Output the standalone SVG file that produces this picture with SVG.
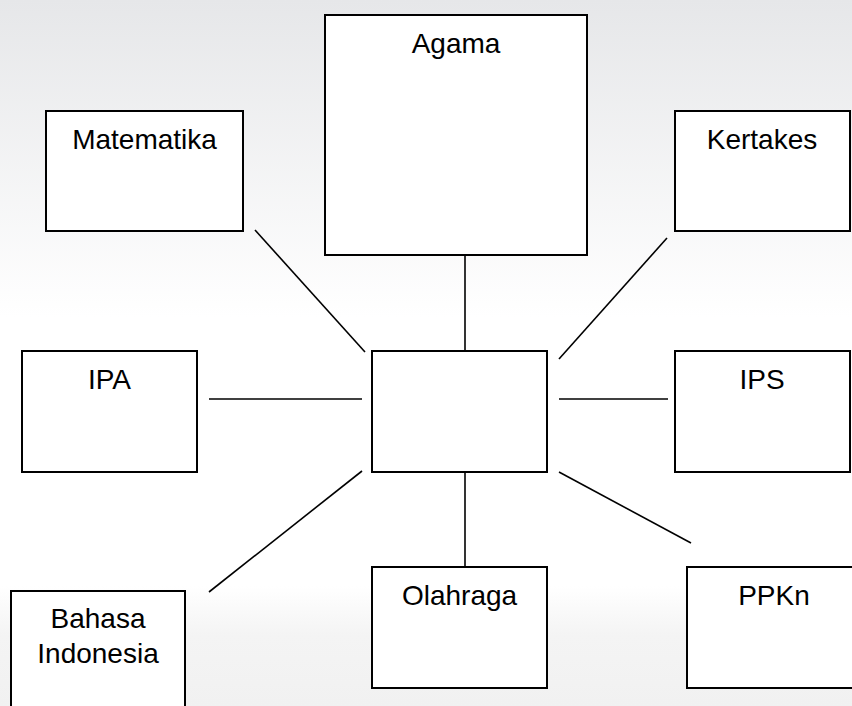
<svg xmlns="http://www.w3.org/2000/svg" width="852" height="706" viewBox="0 0 852 706">
<defs>
<linearGradient id="bg" x1="0" y1="0" x2="0" y2="1">
<stop offset="0" stop-color="#e6e7e9"/>
<stop offset="0.45" stop-color="#ffffff"/>
<stop offset="0.83" stop-color="#ffffff"/>
<stop offset="0.9" stop-color="#f4f4f4"/>
<stop offset="1" stop-color="#f1f1f1"/>
</linearGradient>
</defs>
<style>
.box{fill:#ffffff;stroke:#000;stroke-width:2}
.lbl{font-family:"Liberation Sans",Arial,sans-serif;font-size:28px;fill:#000;text-anchor:middle}
.con line{stroke:#000;stroke-width:1.6}
</style>
<rect x="0" y="0" width="852" height="706" fill="url(#bg)"/>
<g id="connectors" class="con">
<line x1="255" y1="230" x2="365" y2="352"/>
<line x1="465" y1="255" x2="465" y2="351"/>
<line x1="667" y1="238" x2="559" y2="359"/>
<line x1="209" y1="399" x2="362" y2="399"/>
<line x1="559" y1="399" x2="668" y2="399"/>
<line x1="362" y1="471" x2="209" y2="592"/>
<line x1="465" y1="472" x2="465" y2="567"/>
<line x1="559" y1="472" x2="691" y2="543"/>
</g>
<g id="agama"><rect class="box" x="325" y="15" width="262" height="240"/><text class="lbl" x="456" y="53">Agama</text></g>
<g id="matematika"><rect class="box" x="46" y="111" width="197" height="120"/><text class="lbl" x="144.5" y="149">Matematika</text></g>
<g id="kertakes"><rect class="box" x="675" y="111" width="175" height="120"/><text class="lbl" x="762" y="149">Kertakes</text></g>
<g id="center"><rect class="box" x="372" y="351" width="175" height="121"/></g>
<g id="ipa"><rect class="box" x="22" y="351" width="175" height="121"/><text class="lbl" x="109.5" y="389">IPA</text></g>
<g id="ips"><rect class="box" x="675" y="351" width="175" height="121"/><text class="lbl" x="762" y="389">IPS</text></g>
<g id="bahasa"><rect class="box" x="11" y="591" width="174" height="130"/><text class="lbl" x="98" y="628">Bahasa</text><text class="lbl" x="98" y="663">Indonesia</text></g>
<g id="olahraga"><rect class="box" x="372" y="567" width="175" height="121"/><text class="lbl" x="459.5" y="605">Olahraga</text></g>
<g id="ppkn"><rect class="box" x="687" y="567" width="175" height="121"/><text class="lbl" x="774" y="605">PPKn</text></g>
</svg>
